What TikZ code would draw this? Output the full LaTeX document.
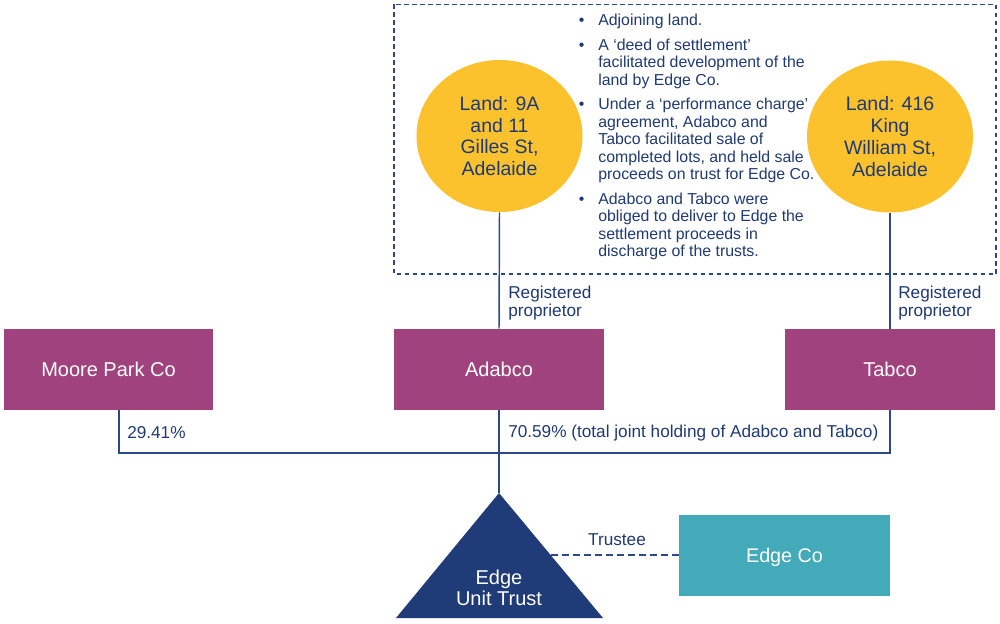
\documentclass[tikz,border=0pt]{standalone}
\usepackage{fontspec}
\setmainfont{Liberation Sans}
\usetikzlibrary{shapes.geometric}
\definecolor{navy}{RGB}{31,58,115}
\definecolor{linec}{RGB}{44,72,135}
\definecolor{trifill}{RGB}{31,60,120}
\definecolor{plum}{RGB}{160,66,125}
\definecolor{tealc}{RGB}{66,170,184}
\definecolor{sun}{RGB}{251,194,45}
\begin{document}
\begin{tikzpicture}[x=0.75pt,y=-0.75pt,
  company/.style={rectangle, fill=plum, text=white, minimum width=157pt, minimum height=60.75pt, inner sep=0pt, text depth=0pt, font=\fontsize{15}{18}\selectfont},
  land/.style={ellipse, fill=sun, text=navy, minimum width=124.5pt, minimum height=114pt, inner sep=0pt, align=center, font=\fontsize{14.6}{16.3}\selectfont},
  lbl/.style={text=navy, inner sep=0pt, anchor=base west, font=\fontsize{12.9}{14}\selectfont},
  link/.style={draw=linec, line width=1.1pt},
  trustlink/.style={draw=linec, line width=1.1pt, dash pattern=on 5.3pt off 3pt},
  groupbox/.style={draw=linec, line width=1.1pt, dash pattern=on 3.5pt off 2.5pt}]
\useasboundingbox (0,0) rectangle (1000,624);

% dashed group box
\coordinate (gNW) at (394,4.5);
\coordinate (gSE) at (996,274);
\draw[groupbox] (gNW) rectangle (gSE);

% land parcels
\node[land] (land1) at (499.5,136) {Land: 9A\\and 11\\Gilles St,\\Adelaide};
\node[land] (land2) at (890,136.5) {Land: 416\\King\\William St,\\Adelaide};

% bullet list
\node[text=navy, inner sep=0pt, anchor=base west, font=\fontsize{11.9}{13.1}\selectfont] (notes) at (578.5,26) {%
\begin{tabular}[t]{@{}l@{\hspace{10.5pt}}l@{}}
\textbullet & Adjoining land.\\[5.3pt]
\textbullet & A ‘deed of settlement’\\
 & facilitated development of the\\
 & land by Edge Co.\\[5.3pt]
\textbullet & Under a ‘performance charge’\\
 & agreement, Adabco and\\
 & Tabco facilitated sale of\\
 & completed lots, and held sale\\
 & proceeds on trust for Edge Co.\\[5.3pt]
\textbullet & Adabco and Tabco were\\
 & obliged to deliver to Edge the\\
 & settlement proceeds in\\
 & discharge of the trusts.
\end{tabular}};

% companies
\node[company] (moore) at (108.5,369.5) {Moore Park Co};
\node[company] (adabco) at (499,369.5) {Adabco};
\node[company] (tabco) at (890,369.5) {Tabco};

% registered proprietor links
\draw[link] (land1.south) -- (adabco.north);
\draw[link] (land2.south) -- (tabco.north);
\node[lbl] (reg1) at (508,298) {\begin{tabular}[t]{@{}l@{}}Registered\\proprietor\end{tabular}};
\node[lbl] (reg2) at (898,298) {\begin{tabular}[t]{@{}l@{}}Registered\\proprietor\end{tabular}};

% trust
\coordinate (apex) at (499,493);
\coordinate (baseL) at (396,618);
\coordinate (baseR) at (603,618);
\fill[trifill] (baseL) -- (apex) -- (baseR) -- cycle;
\node[text=white, inner sep=0pt, anchor=base, font=\fontsize{15}{15.75}\selectfont] (trustname) at (499,584)
  {\begin{tabular}[t]{@{}c@{}}Edge\\Unit Trust\end{tabular}};

% holdings
\coordinate (busy) at (0,453);
\coordinate (mooreTap) at (119,410);
\draw[link] (mooreTap) -- (mooreTap |- busy) -- (tabco.south |- busy) -- (tabco.south);
\draw[link] (adabco.south) -- (apex);
\node[lbl] (pct1) at (127,438) {29.41\%};
\node[lbl] (pct2) at (508,437) {70.59\% (total joint holding of Adabco and Tabco)};

% trustee
\node[rectangle, fill=tealc, text=white, minimum width=158.25pt, minimum height=60.75pt, inner sep=0pt, text depth=0pt, font=\fontsize{14.8}{18}\selectfont] (edgeco) at (784.5,555) {Edge Co};
\coordinate (triR) at (550.6,555);
\draw[trustlink] (triR) -- (edgeco.west);
\node[text=navy, inner sep=0pt, anchor=base, font=\fontsize{12.9}{14}\selectfont] (trustee) at (617,545) {Trustee};
\end{tikzpicture}
\end{document}
